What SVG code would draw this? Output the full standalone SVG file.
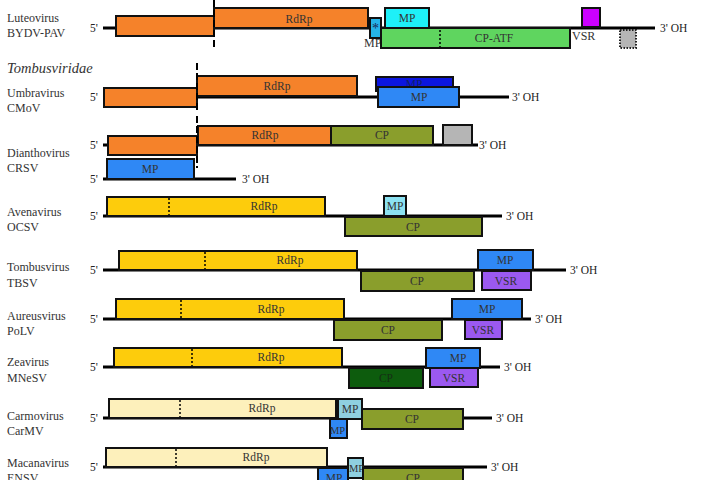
<svg xmlns="http://www.w3.org/2000/svg" width="720" height="480" viewBox="0 0 720 480">
<style>
text{font-family:"Liberation Serif","Times New Roman",serif;fill:#222}
.lab{font-size:12px;fill:#333}
.fam{font-size:14.5px;font-style:italic;fill:#333}
.end{font-size:11.5px;fill:#222}
.in{font-size:11.5px;text-anchor:middle;fill:#333}
.sm{font-size:10.5px;fill:#333}
.g{stroke:#000;stroke-width:3;fill:none}
.b{stroke:#111;stroke-width:2}
.dash{stroke:#000;stroke-width:2;stroke-dasharray:7,3;fill:none}
.dot{stroke:#000;stroke-width:1.5;stroke-dasharray:2,2;fill:none}
.or{fill:#f5822a}.ye{fill:#fdcc0c}.py{fill:#fdf0bb}.ol{fill:#8a9e2c}.dg{fill:#0d5c0d}
.bl{fill:#2f88f5}.db{fill:#0b16e0}.lc{fill:#8ce2f2}.lc2{fill:#8fd0e0}.vs{fill:#9b59f0}
.mg{fill:#cc00ff}.cy{fill:#1ef0f8}.st{fill:#25b4e8}.cg{fill:#5fd55f}.gr{fill:#b5b5b5}
</style>

<g id="luteovirus">
<text class="lab" x="7" y="22">Luteovirus</text>
<text class="lab" x="7" y="37">BYDV-PAV</text>
<line class="g" x1="103" y1="28" x2="655" y2="28"/>
<rect class="b or" x="116" y="16" width="98" height="20"/>
<rect class="b or" x="214" y="8" width="154" height="20"/>
<text class="in" x="299" y="23">RdRp</text>
<rect class="b st" x="370" y="18" width="11" height="20"/>
<text x="375.5" y="33" style="font-size:14px;text-anchor:middle;fill:#1a2a55">*</text>
<rect class="b cy" x="385" y="8" width="44" height="20"/>
<text class="in" x="407" y="22">MP</text>
<text class="lab" x="364" y="47">MP</text>
<rect class="b cg" x="381" y="28" width="189" height="20"/>
<line class="dot" x1="440" y1="30" x2="440" y2="47"/>
<text class="in" x="494" y="42">CP-ATF</text>
<rect class="b mg" x="582" y="8" width="18" height="19"/>
<text class="lab" x="572" y="40">VSR</text>
<rect x="620" y="30" width="16" height="18" fill="#b5b5b5" stroke="#222" stroke-width="2" stroke-dasharray="1.5,1.5"/>
<line class="dash" x1="214" y1="0" x2="214" y2="48"/>
<text class="end" x="90" y="32">5'</text>
<text class="end" x="660" y="32">3' OH</text>
</g>

<text class="fam" x="7" y="73">Tombusviridae</text>

<g id="umbravirus">
<text class="lab" x="7" y="97">Umbravirus</text>
<text class="lab" x="7" y="112">CMoV</text>
<line class="g" x1="103" y1="97" x2="509" y2="97"/>
<rect class="b or" x="104" y="88" width="93" height="19"/>
<rect class="b or" x="197" y="76" width="160" height="20"/>
<text class="in" x="277" y="90">RdRp</text>
<rect class="b db" x="376" y="77" width="77" height="14"/>
<text class="in" x="414" y="88" style="fill:#10206a">MP</text>
<rect class="b bl" x="378" y="87" width="81" height="20"/>
<text class="in" x="419" y="101">MP</text>
<line class="dash" x1="197" y1="63" x2="197" y2="110"/>
<text class="end" x="90" y="101">5'</text>
<text class="end" x="512" y="101">3' OH</text>
</g>

<g id="dianthovirus">
<text class="lab" x="7" y="157">Dianthovirus</text>
<text class="lab" x="7" y="172">CRSV</text>
<line class="g" x1="103" y1="145" x2="478" y2="145"/>
<rect class="b or" x="108" y="136" width="89" height="19"/>
<rect class="b or" x="198" y="126" width="133" height="19"/>
<text class="in" x="265" y="139">RdRp</text>
<rect class="b ol" x="331" y="126" width="102" height="19"/>
<text class="in" x="382" y="139">CP</text>
<rect class="b gr" x="443" y="125" width="29" height="20"/>
<line class="dash" x1="197" y1="116" x2="197" y2="168"/>
<text class="end" x="90" y="149">5'</text>
<text class="end" x="479" y="149">3' OH</text>
<line class="g" x1="103" y1="179" x2="236" y2="179"/>
<rect class="b bl" x="107" y="159" width="87" height="20"/>
<text class="in" x="150" y="173">MP</text>
<text class="end" x="90" y="183">5'</text>
<text class="end" x="242" y="183">3' OH</text>
</g>

<g id="avenavirus">
<text class="lab" x="7" y="216">Avenavirus</text>
<text class="lab" x="7" y="231">OCSV</text>
<line class="g" x1="103" y1="216" x2="502" y2="216"/>
<rect class="b ye" x="107" y="197" width="218" height="19"/>
<line class="dot" x1="169" y1="198" x2="169" y2="215"/>
<text class="in" x="264" y="210">RdRp</text>
<rect class="b lc" x="384" y="196" width="22" height="20"/>
<text class="in" x="395" y="210">MP</text>
<rect class="b ol" x="345" y="217" width="137" height="19"/>
<text class="in" x="413" y="231">CP</text>
<text class="end" x="90" y="220">5'</text>
<text class="end" x="506" y="220">3' OH</text>
</g>

<g id="tombusvirus">
<text class="lab" x="7" y="271">Tombusvirus</text>
<text class="lab" x="7" y="287">TBSV</text>
<line class="g" x1="103" y1="270" x2="566" y2="270"/>
<rect class="b ye" x="119" y="251" width="238" height="19"/>
<line class="dot" x1="205" y1="252" x2="205" y2="269"/>
<text class="in" x="290" y="264">RdRp</text>
<rect class="b ol" x="361" y="271" width="113" height="20"/>
<text class="in" x="417" y="285">CP</text>
<rect class="b bl" x="478" y="250" width="55" height="20"/>
<text class="in" x="505" y="264">MP</text>
<rect class="b vs" x="482" y="271" width="49" height="19"/>
<text class="in" x="506" y="285">VSR</text>
<text class="end" x="90" y="274">5'</text>
<text class="end" x="570" y="274">3' OH</text>
</g>

<g id="aureusvirus">
<text class="lab" x="7" y="320">Aureusvirus</text>
<text class="lab" x="7" y="335">PoLV</text>
<line class="g" x1="103" y1="319" x2="531" y2="319"/>
<rect class="b ye" x="116" y="299" width="228" height="20"/>
<line class="dot" x1="181" y1="300" x2="181" y2="318"/>
<text class="in" x="271" y="313">RdRp</text>
<rect class="b ol" x="334" y="320" width="108" height="20"/>
<text class="in" x="388" y="334">CP</text>
<rect class="b bl" x="452" y="299" width="70" height="20"/>
<text class="in" x="487" y="313">MP</text>
<rect class="b vs" x="465" y="320" width="37" height="19"/>
<text class="in" x="483" y="334">VSR</text>
<text class="end" x="90" y="323">5'</text>
<text class="end" x="535" y="323">3' OH</text>
</g>

<g id="zeavirus">
<text class="lab" x="7" y="366">Zeavirus</text>
<text class="lab" x="7" y="382">MNeSV</text>
<line class="g" x1="103" y1="367" x2="500" y2="367"/>
<rect class="b ye" x="114" y="348" width="228" height="19"/>
<line class="dot" x1="192" y1="349" x2="192" y2="366"/>
<text class="in" x="271" y="361">RdRp</text>
<rect class="b dg" x="349" y="368" width="74" height="20"/>
<text class="in" x="386" y="382" style="fill:#143014">CP</text>
<rect class="b bl" x="426" y="348" width="54" height="20"/>
<text class="in" x="458" y="362">MP</text>
<rect class="b vs" x="430" y="368" width="48" height="19"/>
<text class="in" x="454" y="382">VSR</text>
<text class="end" x="90" y="371">5'</text>
<text class="end" x="504" y="371">3' OH</text>
</g>

<g id="carmovirus">
<text class="lab" x="7" y="420">Carmovirus</text>
<text class="lab" x="7" y="435">CarMV</text>
<line class="g" x1="103" y1="418" x2="492" y2="418"/>
<rect class="b py" x="109" y="399" width="227" height="19"/>
<line class="dot" x1="180" y1="400" x2="180" y2="417"/>
<text class="in" x="262" y="412">RdRp</text>
<rect class="b lc2" x="338" y="399" width="24" height="20"/>
<text class="in" x="350" y="413">MP</text>
<rect class="b bl" x="330" y="419" width="17" height="19"/>
<text class="sm" x="330" y="434">MP</text>
<rect class="b ol" x="362" y="409" width="101" height="20"/>
<text class="in" x="412" y="423">CP</text>
<text class="end" x="90" y="422">5'</text>
<text class="end" x="496" y="422">3' OH</text>
</g>

<g id="macanavirus">
<text class="lab" x="7" y="467">Macanavirus</text>
<text class="lab" x="7" y="482">ENSV</text>
<line class="g" x1="103" y1="467" x2="487" y2="467"/>
<rect class="b py" x="106" y="448" width="221" height="19"/>
<line class="dot" x1="176" y1="449" x2="176" y2="466"/>
<text class="in" x="256" y="461">RdRp</text>
<rect class="b bl" x="318" y="468" width="30" height="20"/>
<text class="in" x="334" y="482">MP</text>
<rect class="b lc2" x="348" y="458" width="15" height="20"/>
<text class="sm" x="349" y="472">MP</text>
<rect class="b ol" x="363" y="468" width="100" height="22"/>
<text class="in" x="413" y="482">CP</text>
<text class="end" x="90" y="471">5'</text>
<text class="end" x="491" y="471">3' OH</text>
</g>
</svg>
